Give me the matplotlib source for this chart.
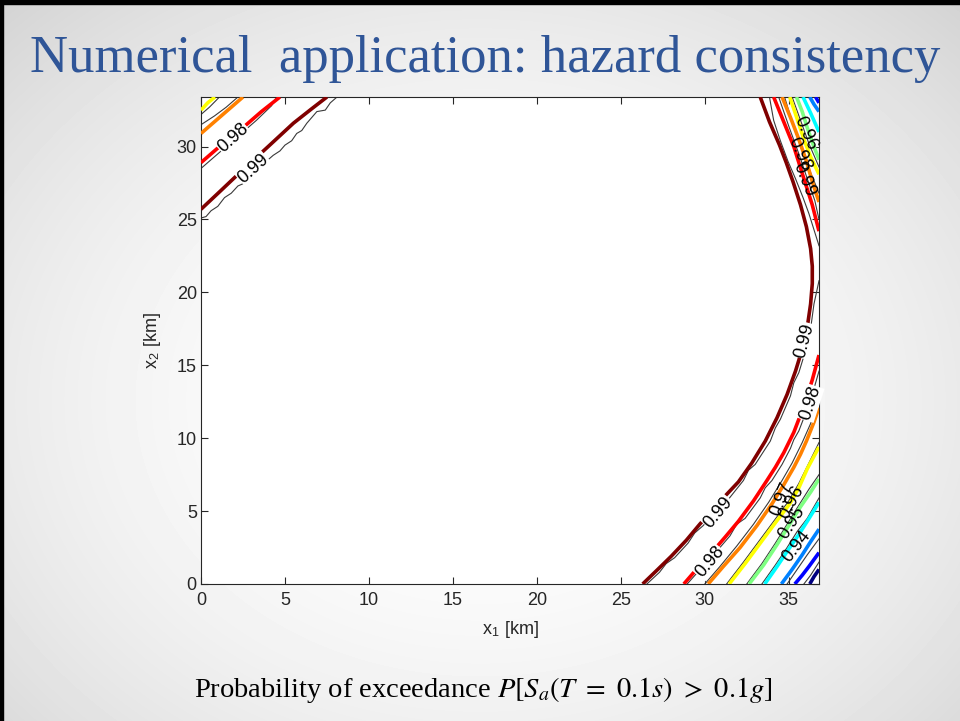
import numpy as np
import matplotlib.pyplot as plt
from matplotlib import colors

plt.rcParams['mathtext.fontset'] = 'stix'

# contour levels of the probability of exceedance
levels = [0.91, 0.92, 0.93, 0.94, 0.95, 0.96, 0.97, 0.98, 0.99]

# coloured contour lines (x1, x2 in km)
c99_tl_x = [0, 1.2, 2.3, 4.0, 5.5, 6.6, 7.5]
c99_tl_y = [25.7, 27.0, 28.2, 30.0, 31.6, 32.6, 33.4]
c99_r_x = [26.3, 27.2, 28.0, 28.9, 29.7, 30.4, 31.1, 32.0, 32.8, 33.6, 34.3, 34.9, 35.4,
           35.8, 36.1, 36.3, 36.4, 36.4, 36.3, 36.05, 35.7, 35.25, 34.85, 34.45, 33.85, 33.3]
c99_r_y = [0, 1.0, 1.9, 3.0, 4.1, 5.0, 5.9, 7.0, 8.3, 9.8, 11.4, 13.0, 14.6,
           16.1, 17.6, 19.2, 20.6, 21.8, 23.0, 24.5, 26.0, 27.6, 28.9, 30.1, 31.7, 33.4]

c98_tl_x = [0, 1.2, 2.5, 3.6, 4.7]
c98_tl_y = [28.9, 30.1, 31.3, 32.4, 33.4]
c98_rb_x = [28.75, 29.5, 30.3, 31.2, 32.0, 32.9, 33.7, 34.2, 34.7, 35.3, 35.9, 36.4, 36.8]
c98_rb_y = [0, 1.0, 2.0, 3.2, 4.3, 5.7, 7.1, 8.0, 9.0, 10.4, 12.2, 14.0, 15.7]
c98_rt_x = [36.8, 36.4, 35.9, 35.3, 34.7, 34.1]
c98_rt_y = [24.2, 26.0, 27.8, 30.0, 31.7, 33.4]

c97_tl_x = [0, 1.2, 2.5]
c97_tl_y = [30.9, 32.1, 33.4]
c97_rb_x = [30.2, 31.1, 32.1, 33.1, 34.0, 34.7, 35.3, 35.7, 36.05, 36.5, 36.8]
c97_rb_y = [0, 1.2, 2.5, 4.0, 5.5, 6.8, 8.0, 8.9, 9.8, 11.1, 12.1]
c97_rt_x = [36.8, 36.4, 36.05, 35.6, 35.1, 34.6]
c97_rt_y = [26.2, 27.6, 29.0, 30.5, 32.0, 33.4]

c96_tl_x = [0, 0.4, 0.83]
c96_tl_y = [32.5, 33.0, 33.4]
c96_rb_x = [31.45, 32.4, 33.3, 34.2, 35.06, 35.6, 36.1, 36.8]
c96_rb_y = [0, 1.4, 2.8, 4.2, 5.5, 6.6, 7.9, 9.4]
c96_rt_x = [36.8, 36.3, 35.9, 35.5, 35.06]
c96_rt_y = [28.1, 29.3, 30.5, 31.9, 33.4]

c95_rb_x = [32.64, 33.5, 34.3, 35.0, 35.7, 36.3, 36.8]
c95_rb_y = [0, 1.3, 2.7, 4.0, 5.3, 6.3, 7.2]
c95_rt_x = [36.8, 36.4, 36.1, 35.8, 35.46]
c95_rt_y = [29.1, 30.3, 31.3, 32.4, 33.4]

c94_rb_x = [33.57, 34.3, 35.0, 35.6, 36.1, 36.8]
c94_rb_y = [0, 1.2, 2.4, 3.4, 4.3, 5.6]
c94_rt_x = [36.8, 36.3, 35.85]
c94_rt_y = [31.0, 32.3, 33.4]

c93_rb_x = [34.56, 35.2, 35.8, 36.3, 36.8]
c93_rb_y = [0, 1.0, 2.0, 2.9, 3.76]
c93_rt_x = [36.8, 36.5, 36.25]
c93_rt_y = [32.4, 32.9, 33.4]

c92_rb_x = [35.36, 35.8, 36.2, 36.8]
c92_rb_y = [0, 0.6, 1.2, 2.15]
c92_rt_x = [36.8, 36.6]
c92_rt_y = [33.0, 33.4]

c91_rb_x = [36.25, 36.5, 36.8]
c91_rb_y = [0, 0.5, 1.0]

# thin black contour lines of the second estimate
k99_tl_x = [0, 0.3, 0.6, 1.0, 1.4, 1.8, 2.2, 2.6, 2.9, 3.5, 3.9, 4.3, 4.7, 5.0, 5.4, 5.7,
            6.0, 6.3, 6.9, 7.4, 7.7, 8.1]
k99_tl_y = [25.1, 25.2, 25.6, 25.9, 26.5, 26.8, 27.3, 27.5, 28.0, 28.4, 29.0, 29.4, 29.7,
            30.1, 30.4, 30.9, 31.1, 31.6, 32.4, 32.5, 33.0, 33.4]
k98_tl_x = [0, 0.7, 1.5, 2.4, 3.3, 4.2, 4.5]
k98_tl_y = [28.5, 29.2, 30.0, 30.9, 31.8, 32.8, 33.4]
k97_tl_x = [0, 0.8, 1.5, 2.2]
k97_tl_y = [31.5, 32.1, 32.7, 33.4]
k96_tl_x = [0, 0.5, 1.1]
k96_tl_y = [32.2, 32.7, 33.4]

k99_rb_x = [26.55, 27.3, 27.7, 28.2, 29.0, 29.4, 29.9, 30.6, 31.0, 31.4, 32.3, 32.6, 33.0,
            33.9, 34.2, 34.5, 35.1, 35.3, 35.6, 36.0, 36.3, 36.5, 36.8]
k99_rb_y = [0, 0.8, 1.4, 1.8, 2.8, 3.5, 4.0, 4.9, 5.6, 5.8, 7.1, 7.8, 8.2, 9.8, 10.7,
            11.3, 12.9, 13.8, 14.5, 16.0, 17.5, 19.2, 20.8]
k99_rt_x = [36.8, 36.5, 36.2, 35.85, 35.4, 34.95, 34.5, 34.1, 33.85]
k99_rt_y = [23.2, 24.3, 25.4, 26.5, 27.8, 29.0, 30.4, 31.8, 33.4]
k98_rb_x = [28.95, 29.8, 30.1, 30.6, 31.5, 31.9, 32.4, 33.3, 33.6, 34.0, 34.6, 35.1, 35.3,
            35.6, 36.1, 36.5, 36.8]
k98_rb_y = [0, 1.1, 1.7, 2.1, 3.3, 4.1, 4.5, 5.9, 6.6, 7.1, 8.2, 9.3, 9.9, 10.5, 12.0,
            13.4, 14.6]
k98_rt_x = [36.8, 36.55, 36.1, 35.6, 35.0, 34.4]
k98_rt_y = [25.0, 26.3, 27.8, 29.5, 31.4, 33.4]
k97_rb_x = [30.0, 30.9, 31.9, 32.9, 33.8, 34.6, 35.2, 35.8, 36.3, 36.8]
k97_rb_y = [0, 1.2, 2.6, 4.1, 5.6, 7.1, 8.3, 9.7, 11.0, 12.6]
k97_rt_x = [36.8, 36.2, 35.7, 35.2, 34.75]
k97_rt_y = [26.8, 28.5, 30.0, 31.7, 33.4]
k96_rb_x = [31.3, 32.3, 33.2, 34.1, 35.0, 35.6, 36.2, 36.8]
k96_rb_y = [0, 1.5, 2.9, 4.3, 5.7, 6.9, 8.3, 9.7]
k96_rt_x = [36.8, 36.2, 35.7, 35.2]
k96_rt_y = [28.6, 30.2, 31.8, 33.4]
k95_rb_x = [32.5, 33.4, 34.2, 34.9, 35.6, 36.2, 36.8]
k95_rb_y = [0, 1.4, 2.8, 4.1, 5.4, 6.5, 7.5]
k94_rb_x = [33.4, 34.2, 34.9, 35.5, 36.1, 36.8]
k94_rb_y = [0, 1.3, 2.5, 3.6, 4.5, 5.9]
k93_rb_x = [34.9, 35.5, 36.1, 36.8]
k93_rb_y = [0, 1.0, 2.0, 3.1]
k92_rb_x = [35.9, 36.3, 36.8]
k92_rb_y = [0, 0.6, 1.5]

colour_lines = [
    (0.99, c99_tl_x, c99_tl_y), (0.99, c99_r_x, c99_r_y),
    (0.98, c98_tl_x, c98_tl_y), (0.98, c98_rb_x, c98_rb_y), (0.98, c98_rt_x, c98_rt_y),
    (0.97, c97_tl_x, c97_tl_y), (0.97, c97_rb_x, c97_rb_y), (0.97, c97_rt_x, c97_rt_y),
    (0.96, c96_tl_x, c96_tl_y), (0.96, c96_rb_x, c96_rb_y), (0.96, c96_rt_x, c96_rt_y),
    (0.95, c95_rb_x, c95_rb_y), (0.95, c95_rt_x, c95_rt_y),
    (0.94, c94_rb_x, c94_rb_y), (0.94, c94_rt_x, c94_rt_y),
    (0.93, c93_rb_x, c93_rb_y), (0.93, c93_rt_x, c93_rt_y),
    (0.92, c92_rb_x, c92_rb_y), (0.92, c92_rt_x, c92_rt_y),
    (0.91, c91_rb_x, c91_rb_y),
]
black_lines = [
    (k99_tl_x, k99_tl_y), (k98_tl_x, k98_tl_y), (k97_tl_x, k97_tl_y), (k96_tl_x, k96_tl_y),
    (k99_rb_x, k99_rb_y), (k99_rt_x, k99_rt_y), (k98_rb_x, k98_rb_y), (k98_rt_x, k98_rt_y),
    (k97_rb_x, k97_rb_y), (k97_rt_x, k97_rt_y), (k96_rb_x, k96_rb_y), (k96_rt_x, k96_rt_y),
    (k95_rb_x, k95_rb_y), (k94_rb_x, k94_rb_y), (k93_rb_x, k93_rb_y), (k92_rb_x, k92_rb_y),
]

# inline contour labels
lab_text = ['0.98', '0.99', '0.99', '0.98', '0.97', '0.96', '0.95', '0.94',
            '0.99', '0.98', '0.96', '0.98', '0.99']
lab_x = [1.9, 3.1, 30.8, 30.3, 34.55, 35.15, 35.15, 35.45, 35.95, 36.3, 36.0, 35.65, 35.9]
lab_y = [30.6, 28.5, 4.9, 1.5, 5.85, 5.6, 4.2, 2.6, 16.7, 12.4, 30.9, 29.5, 27.7]
lab_rot = [42, 42, 50, 50, 68, 62, 58, 52, 75, 72, -66, -66, -68]
lab_box = [True, True, True, True, False, False, False, False, True, True, False, False, False]

fig = plt.figure(figsize=(9.6, 7.21), dpi=100)

# slide background: light radial gradient and black frame on top/left
bg = fig.add_axes([0, 0, 1, 1], zorder=-10)
yy, xx = np.mgrid[0:721, 0:960]
d = np.hypot((xx - 480) / 600.0, (yy - 400) / 480.0)
shade = 1 - 0.13 * np.clip(d, 0, 1.4) ** 2
bg.imshow(shade, cmap='gray', vmin=0, vmax=1, extent=[0, 960, 721, 0], aspect='auto')
bg.fill_between([0, 960], 0, 4, color='black')
bg.fill_between([0, 3], 0, 721, color='black')
bg.set_xlim(0, 960)
bg.set_ylim(721, 0)
bg.axis('off')

fig.text(30 / 960, 1 - 72 / 721, 'Numerical  application: hazard consistency',
         fontsize=38, family='Liberation Serif', color='#2F5597', va='baseline')
fig.text(483 / 960, 1 - 697 / 721,
         r'Probability of exceedance $P[S_a(T\ =\ 0.1s)\ >\ 0.1g]$',
         fontsize=20.5, family='Liberation Serif', ha='center', va='baseline')

ax = fig.add_axes([201 / 960, 1 - 584 / 721, 618 / 960, 487 / 721])
ax.set_facecolor('white')

# MATLAB style jet colour map
jet = colors.LinearSegmentedColormap.from_list('mjet', [
    (0.0, (0, 0, 0.5)), (0.125, (0, 0, 1)), (0.375, (0, 1, 1)), (0.625, (1, 1, 0)),
    (0.875, (1, 0, 0)), (1.0, (0.5, 0, 0))])
norm = colors.Normalize(vmin=min(levels), vmax=max(levels))

for xs, ys in black_lines:
    ax.plot(xs, ys, color='#3a3a3a', lw=0.8, zorder=2)
for lev, xs, ys in colour_lines:
    ax.plot(xs, ys, color=jet(norm(lev)), lw=2.6, zorder=3, solid_capstyle='butt')

for t, x, y, r, b in zip(lab_text, lab_x, lab_y, lab_rot, lab_box):
    kw = {}
    if b:
        kw['bbox'] = dict(facecolor='white', edgecolor='none', pad=0.3)
    ax.text(x, y, t, rotation=r, ha='center', va='center', fontsize=13,
            family='Liberation Sans', zorder=5, rotation_mode='anchor', **kw)

ax.set_xlim(0, 36.8)
ax.set_ylim(0, 33.4)
ax.set_xticks(range(0, 36, 5))
ax.set_yticks(range(0, 31, 5))
ax.tick_params(direction='in', top=True, right=True, length=5, width=0.8,
               labelsize=13, colors='#262626')
ax.tick_params(axis='x', pad=6)
ax.tick_params(axis='y', pad=3)
for lbl in ax.get_xticklabels() + ax.get_yticklabels():
    lbl.set_family('Liberation Sans')
for s in ax.spines.values():
    s.set_color('#262626')
    s.set_linewidth(0.8)

ax.set_xlabel(r'x$_\mathregular{1}$ [km]', fontsize=13, family='Liberation Sans',
              color='#262626', labelpad=7)
ax.set_ylabel(r'x$_\mathregular{2}$ [km]', fontsize=13, family='Liberation Sans',
              color='#262626', labelpad=10)

fig.savefig('out.png', dpi=100)
